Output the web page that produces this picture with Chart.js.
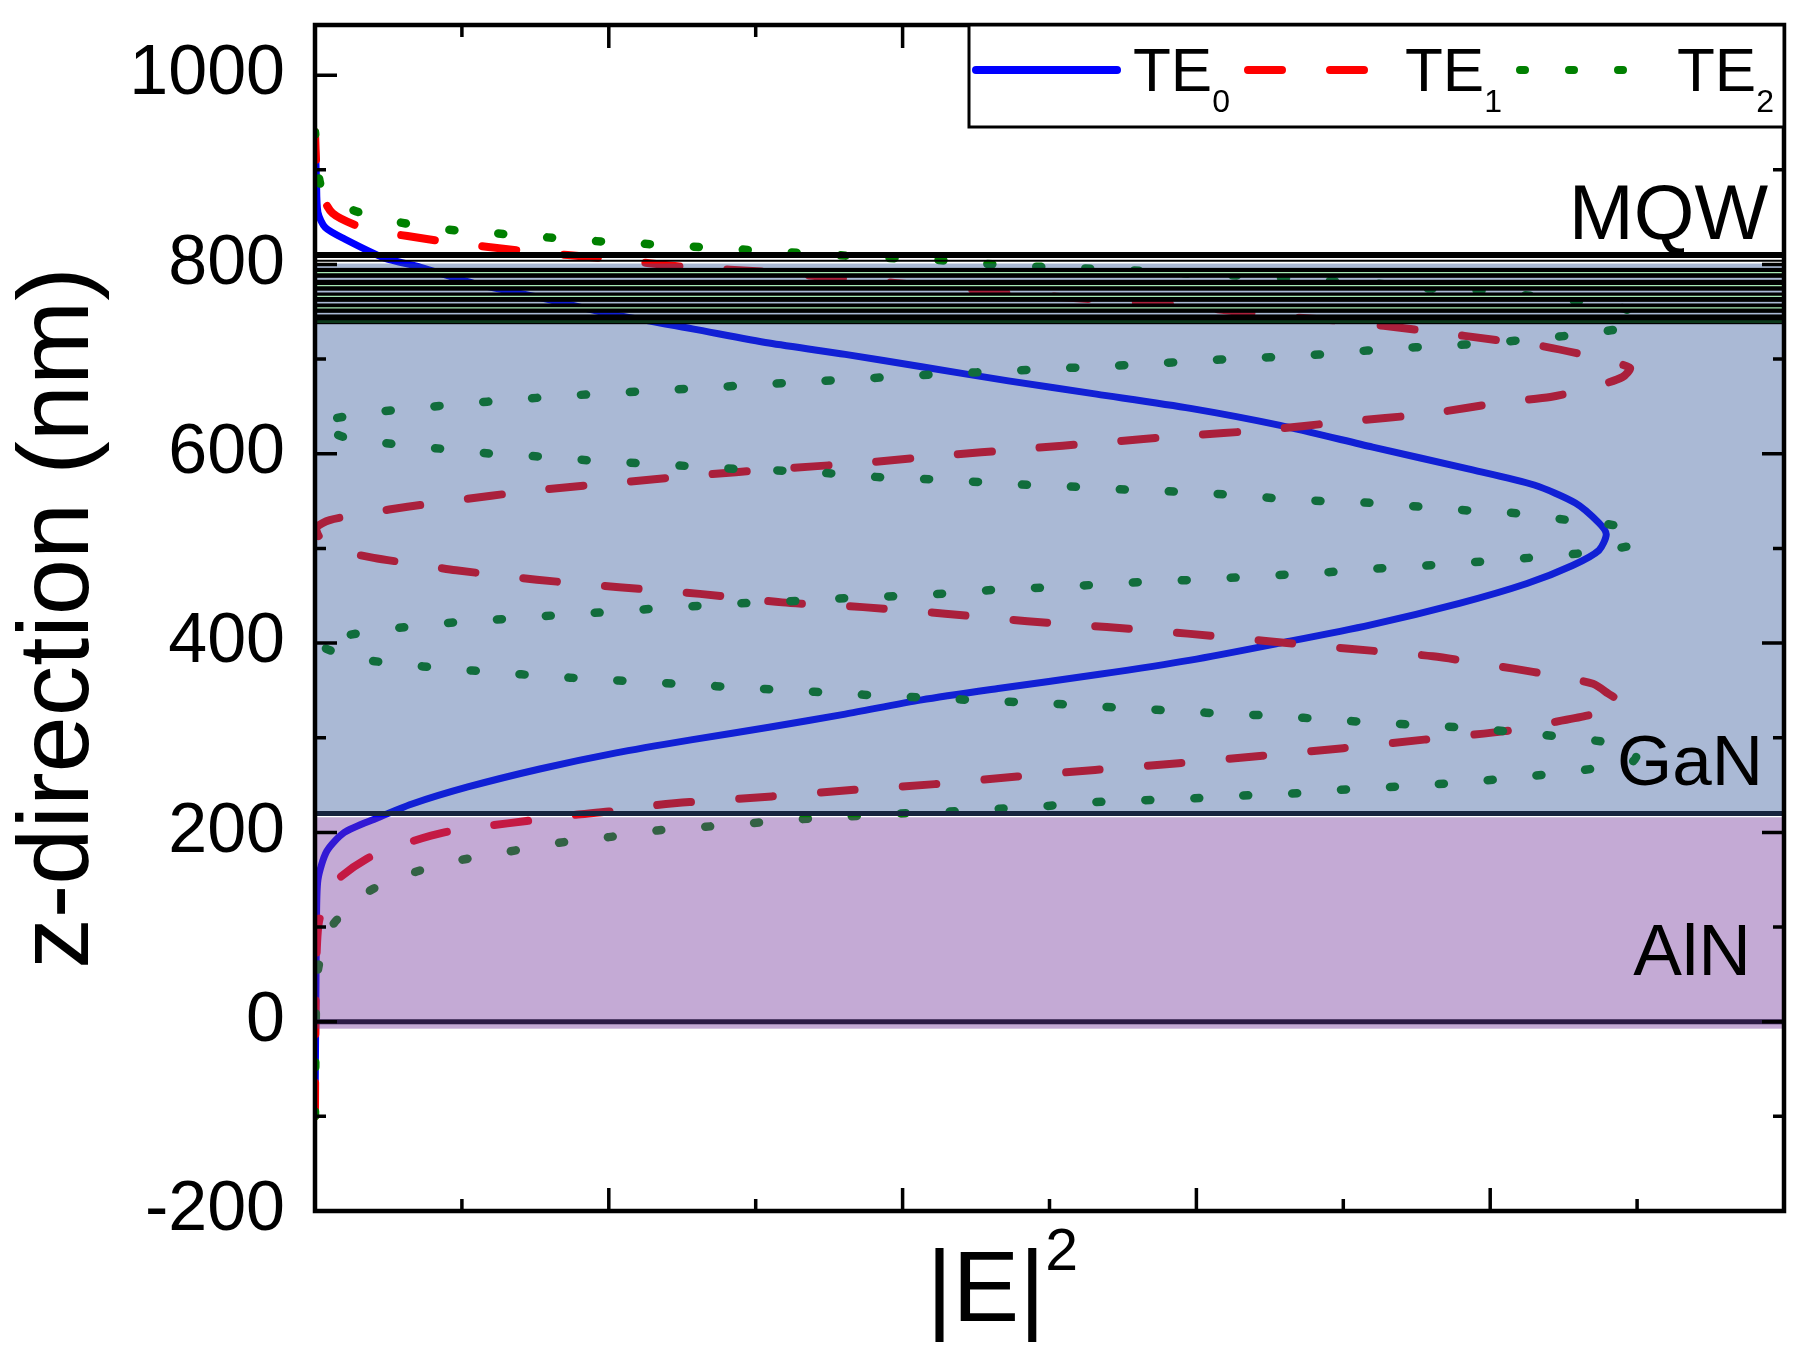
<!DOCTYPE html>
<html>
<head>
<meta charset="utf-8">
<title>TE mode profiles</title>
<script src="https://cdn.jsdelivr.net/npm/chart.js@4"></script>
<style>
  html, body { margin: 0; padding: 0; background: #fff; }
  #wrap { width: 1805px; height: 1358px; position: relative; }
</style>
</head>
<body>
<div id="wrap"><canvas id="modeChart"></canvas></div>
<script>
// mode intensity profiles: z in nm, |E|^2 in plot units (0..10)
const te0Z = [-100, 0, 100, 150, 180, 200, 215, 230, 248, 267, 284, 298, 311, 325, 340, 352, 367, 382, 400, 419,
  442, 463, 482, 498, 515, 527, 548, 567, 584, 607, 630, 648, 663, 677, 692, 705, 717, 732, 748, 765,
  780, 797, 807, 827, 839, 855, 890, 940];
const te0E = [0, 0.005, 0.01, 0.02, 0.08, 0.2, 0.42, 0.66, 1.04, 1.53, 2.05, 2.57, 3.09, 3.61, 4.13, 4.65, 5.34, 5.96, 6.57, 7.18,
  7.79, 8.25, 8.56, 8.74, 8.79, 8.74, 8.58, 8.3, 7.85, 7.2, 6.57, 5.96, 5.32, 4.72, 4.13, 3.61, 3.09, 2.57, 2.0, 1.53,
  1.08, 0.72, 0.47, 0.2, 0.07, 0.02, 0.01, 0];

const te1Z = [-100, 0, 67, 108, 146, 172, 189, 200, 207, 212, 218, 222, 228, 232, 238, 245, 251, 259, 266, 273,
  281, 289, 298, 307, 315, 323, 335, 347, 357, 366, 373, 386, 394, 402, 410, 417, 423, 431, 438, 443,
  452, 459, 467, 477, 484, 490, 500, 512, 522, 530, 538, 544, 550, 561, 569, 577, 584, 590, 598, 605,
  612, 619, 625, 634, 642, 655, 660, 669, 681, 691, 704, 713, 719, 730, 740, 747, 757, 763, 769, 777,
  784, 792, 797, 806, 814, 824, 830, 838, 854, 880, 903, 940];
const te1E = [0, 0.003, 0.01, 0.03, 0.13, 0.35, 0.63, 0.88, 1.18, 1.44, 1.74, 2.0, 2.28, 2.55, 3.11, 3.67, 4.22, 4.78, 5.31, 5.88,
  6.45, 7.0, 7.55, 8.1, 8.38, 8.65, 8.9, 8.8, 8.7, 8.42, 8.16, 7.61, 7.04, 6.49, 5.94, 5.39, 4.85, 4.29, 3.73, 3.18,
  2.62, 2.07, 1.51, 0.96, 0.66, 0.4, 0.12, 0.03, 0.01, 0.1, 0.38, 0.63, 0.92, 1.48, 2.03, 2.59, 3.14, 3.7, 4.26, 4.81,
  5.37, 5.91, 6.46, 7.01, 7.56, 8.11, 8.41, 8.67, 8.9, 8.95, 8.65, 8.38, 8.1, 7.55, 7.0, 6.45, 5.9, 5.31, 4.78, 4.22,
  3.67, 3.1, 2.55, 2.0, 1.44, 0.89, 0.63, 0.34, 0.12, 0.03, 0.01, 0];

const te2Z = [-100, 0, 55, 100, 138, 158, 171, 180, 189, 195, 202, 206, 210, 214, 217, 220, 222, 225, 228, 232,
  234, 236, 239, 241, 245, 248, 251, 255, 260, 266, 275, 285, 293, 300, 305, 310, 313, 316, 319, 323,
  325, 328, 331, 334, 337, 339, 342, 344, 347, 350, 353, 356, 359, 362, 365, 369, 373, 378, 385, 400,
  412, 418, 423, 426, 430, 433, 437, 440, 443, 445, 448, 450, 453, 457, 459, 462, 465, 467, 470, 473,
  476, 480, 483, 487, 491, 496, 505, 515, 524, 530, 537, 540, 544, 548, 550, 553, 557, 560, 562, 565,
  567, 570, 573, 575, 579, 582, 584, 587, 590, 593, 597, 600, 605, 610, 617, 632, 643, 648, 653, 657,
  661, 664, 667, 670, 673, 676, 679, 682, 685, 687, 690, 692, 695, 698, 701, 703, 707, 711, 714, 717,
  722, 727, 736, 746, 756, 762, 768, 773, 775, 780, 783, 786, 789, 791, 794, 796, 798, 801, 805, 807,
  810, 813, 816, 819, 822, 825, 829, 833, 837, 845, 858, 880, 901, 940];
const te2E = [0, 0.005, 0.02, 0.11, 0.37, 0.68, 1.0, 1.33, 1.66, 2.0, 2.33, 2.66, 2.99, 3.32, 3.65, 3.99, 4.32, 4.66, 4.99, 5.32,
  5.65, 5.99, 6.32, 6.65, 6.98, 7.32, 7.65, 7.98, 8.31, 8.64, 8.97, 9.0, 8.88, 8.55, 8.22, 7.88, 7.56, 7.23, 6.9, 6.56,
  6.23, 5.9, 5.56, 5.23, 4.9, 4.56, 4.23, 3.9, 3.57, 3.23, 2.9, 2.56, 2.23, 1.9, 1.57, 1.24, 0.9, 0.57, 0.24, 0.02,
  0.36, 0.69, 1.03, 1.36, 1.69, 2.02, 2.36, 2.69, 3.02, 3.35, 3.68, 4.02, 4.35, 4.69, 5.02, 5.35, 5.68, 6.02, 6.35, 6.68,
  7.01, 7.34, 7.68, 8.01, 8.34, 8.68, 9.0, 8.97, 8.86, 8.53, 8.19, 7.86, 7.53, 7.2, 6.86, 6.54, 6.2, 5.86, 5.53, 5.2,
  4.87, 4.54, 4.2, 3.87, 3.54, 3.2, 2.87, 2.54, 2.21, 1.87, 1.54, 1.21, 0.88, 0.55, 0.21, 0.02, 0.35, 0.68, 1.01, 1.34,
  1.68, 2.01, 2.34, 2.68, 3.01, 3.34, 3.68, 4.01, 4.34, 4.67, 5.01, 5.34, 5.67, 6.0, 6.33, 6.67, 7.0, 7.33, 7.66, 8.0,
  8.33, 8.67, 8.98, 9.0, 8.86, 8.54, 8.21, 7.87, 7.54, 7.21, 6.87, 6.54, 6.21, 5.88, 5.54, 5.21, 4.87, 4.54, 4.21, 3.88,
  3.54, 3.21, 2.88, 2.55, 2.22, 1.88, 1.55, 1.22, 0.89, 0.56, 0.25, 0.05, 0.02, 0];

const modeNames = ['TE', 'TE', 'TE'];
const modeIndex = ['0', '1', '2'];

// layer stack (nm)
const layerNames = ['AlN', 'GaN', 'MQW'];
const layerBottom = [0, 220, 737];
const layerTop = [216, 801, 810];
// MQW: dark barrier bands with thin wells between them
const mqwBandTop = [796.4, 783.8, 770.4, 758.8, 747.2];
const mqwBandBottom = [785.9, 772.3, 760.5, 748.9, 736.9];
const mqwWells = [791.4, 777.7, 766.2, 754.2];

const yTitle = 'z-direction (nm)';
const xTitle = '|E|';
const xTitleSup = '2';

const FONT = '"Liberation Sans", Arial, Helvetica, sans-serif';
Chart.defaults.font.family = FONT;
Chart.defaults.color = '#000';

function toPoints(zs, es) {
  return zs.map((z, i) => ({ x: es[i], y: z }));
}

const layerPlugin = {
  id: 'layers',
  afterDatasetsDraw(chart) {
    const { ctx, chartArea: a, scales: { x, y } } = chart;
    const py = v => y.getPixelForValue(v);
    ctx.save();

    // translucent layers sit on top of the curves, like in the original
    const ganTop = py(layerTop[1]), ganBot = py(layerBottom[1]);
    ctx.fillStyle = 'rgba(42,80,150,0.4)';
    ctx.fillRect(a.left, ganTop, a.width, ganBot - ganTop);
    const alnTop = py(layerTop[0]), alnBot = py(layerBottom[0]) + 7;
    ctx.fillStyle = 'rgba(119,58,158,0.43)';
    ctx.fillRect(a.left, alnTop, a.width, alnBot - alnTop);

    function hline(v, color, w) {
      ctx.beginPath();
      ctx.strokeStyle = color;
      ctx.lineWidth = w;
      ctx.moveTo(a.left, py(v));
      ctx.lineTo(a.right, py(v));
      ctx.stroke();
    }
    hline(layerBottom[0], '#2c1b46', 5);
    hline(layerBottom[1], '#17243f', 5);

    // quantum well stack
    ctx.fillStyle = '#000';
    mqwBandTop.forEach((t, i) => {
      const p0 = py(t), p1 = py(mqwBandBottom[i]);
      ctx.fillRect(a.left, p0, a.width, p1 - p0);
    });
    mqwWells.forEach(v => hline(v, '#a6e8b4', 1.2));
    hline(739.6, '#0c3a1c', 2.7);
    hline(layerTop[2], '#000', 6);
    hline(803.8, '#000', 2);

    // layer names
    ctx.fillStyle = '#000';
    ctx.textAlign = 'right';
    ctx.textBaseline = 'alphabetic';
    ctx.font = '78px ' + FONT;
    ctx.fillText(layerNames[2], a.right - 16, py(827));
    ctx.font = '71px ' + FONT;
    ctx.fillText(layerNames[1], a.right - 21, py(250));
    ctx.font = '73px ' + FONT;
    ctx.fillText(layerNames[0], a.right - 33, py(49));

    // frame and inward ticks
    ctx.strokeStyle = '#000';
    ctx.lineWidth = 3.5;
    ctx.beginPath();
    y.ticks.forEach(t => {
      const p = py(t.value);
      const len = t.value % 200 === 0 ? 22 : 11;
      ctx.moveTo(a.left, p); ctx.lineTo(a.left + len, p);
      ctx.moveTo(a.right, p); ctx.lineTo(a.right - len, p);
    });
    x.ticks.forEach(t => {
      if (t.value <= x.min || t.value >= x.max) return;
      const p = x.getPixelForValue(t.value);
      const len = t.value % 2 === 0 ? 23 : 12;
      ctx.moveTo(p, a.bottom); ctx.lineTo(p, a.bottom - len);
      ctx.moveTo(p, a.top); ctx.lineTo(p, a.top + len);
    });
    ctx.stroke();
    ctx.lineWidth = 4.5;
    ctx.strokeRect(a.left, a.top, a.width, a.height);

    // x axis title with superscript
    ctx.textAlign = 'left';
    ctx.font = '100px ' + FONT;
    const tx = (a.left + a.right) / 2 - 123;
    ctx.fillText(xTitle, tx, a.bottom + 110);
    const tw = ctx.measureText(xTitle).width;
    ctx.font = '59px ' + FONT;
    ctx.fillText(xTitleSup, tx + tw, a.bottom + 59);

    // legend box
    const lw = 815, lh = 102, lx = a.right - lw, ly = a.top;
    ctx.fillStyle = '#fff';
    ctx.fillRect(lx, ly, lw, lh);
    ctx.lineWidth = 3;
    ctx.strokeRect(lx, ly, lw, lh);
    chart.data.datasets.forEach((ds, i) => {
      const sx = lx + 7 + i * 272, sy = ly + 45;
      ctx.beginPath();
      ctx.strokeStyle = ds.legendColor;
      ctx.lineWidth = 8;
      ctx.lineCap = 'round';
      ctx.setLineDash(ds.borderDash || []);
      ctx.moveTo(sx, sy);
      ctx.lineTo(sx + 141, sy);
      ctx.stroke();
      ctx.setLineDash([]);
      ctx.fillStyle = '#000';
      ctx.font = '62px ' + FONT;
      const lx2 = sx + 157;
      ctx.fillText(modeNames[i], lx2, ly + 66);
      const w = ctx.measureText(modeNames[i]).width;
      ctx.font = '32px ' + FONT;
      ctx.fillText(modeIndex[i], lx2 + w, ly + 87);
    });
    ctx.restore();
  }
};

const ctx = document.getElementById('modeChart').getContext('2d');
new Chart(ctx, {
  type: 'scatter',
  data: {
    datasets: [
      {
        label: 'TE0',
        data: toPoints(te0Z, te0E),
        borderColor: '#0000ff',
        legendColor: '#0000ff',
        borderWidth: 7,
        order: 3
      },
      {
        label: 'TE1',
        data: toPoints(te1Z, te1E),
        borderColor: '#ff0000',
        legendColor: '#ff0000',
        borderWidth: 8,
        borderDash: [34, 48],
        order: 2
      },
      {
        label: 'TE2',
        data: toPoints(te2Z, te2E),
        borderColor: '#008000',
        legendColor: '#008000',
        borderWidth: 8.5,
        borderDash: [5, 44],
        order: 1
      }
    ].map(ds => Object.assign({
      showLine: true,
      pointRadius: 0,
      borderCapStyle: 'round',
      borderJoinStyle: 'round',
      tension: 0.25,
      fill: false
    }, ds))
  },
  options: {
    responsive: true,
    maintainAspectRatio: false,
    animation: false,
    layout: { padding: { top: 25, right: 21, bottom: 0, left: 0 } },
    plugins: {
      legend: { display: false },
      tooltip: { enabled: false }
    },
    scales: {
      x: {
        type: 'linear',
        min: 0,
        max: 10,
        ticks: { stepSize: 1, display: false },
        grid: { display: false, drawTicks: false },
        border: { display: false },
        afterFit(scale) {
          scale.height = 147;
          scale.paddingLeft = 0;
          scale.paddingRight = 0;
        }
      },
      y: {
        type: 'linear',
        min: -200,
        max: 1053,
        ticks: {
          stepSize: 100,
          includeBounds: false,
          autoSkip: false,
          padding: 30,
          color: '#000',
          font: { size: 70 },
          callback: v => (v % 200 === 0 ? String(v) : '')
        },
        grid: { display: false, drawTicks: false },
        border: { display: false },
        title: {
          display: true,
          text: yTitle,
          color: '#000',
          font: { size: 101 },
          padding: { top: 0, bottom: 0 }
        },
        afterFit(scale) {
          scale.width = 315;
          scale.paddingTop = 0;
          scale.paddingBottom = 0;
        }
      }
    }
  },
  plugins: [layerPlugin]
});
</script>
</body>
</html>
